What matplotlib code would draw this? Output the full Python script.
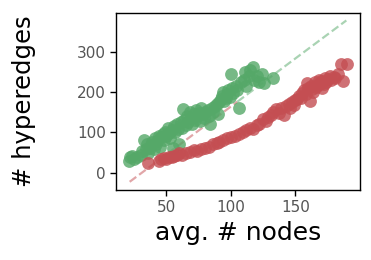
import matplotlib
matplotlib.use("Agg")
import matplotlib.pyplot as plt

# green series: avg. # nodes vs # hyperedges
green_x = [21, 22, 23, 25, 27, 30, 31, 33, 34, 35, 36, 37, 38, 39, 40, 41, 42, 43,
           44, 45, 46, 47, 48, 49, 50, 51, 52, 53, 54, 55, 56, 57, 58, 59, 60, 61,
           62, 63, 64, 65, 66, 67, 68, 69, 70, 71, 72, 73, 74, 75, 76, 77, 78, 79,
           80, 82, 83, 84, 85, 86, 88, 89, 90, 91, 92, 93, 94, 95, 96, 97, 98, 99,
           100, 101, 102, 104, 105, 106, 108, 110, 111, 112, 114, 115, 117, 118,
           120, 122, 124, 126, 133]
green_y = [30, 38, 42, 35, 40, 45, 55, 80, 60, 72, 50, 62, 68, 75, 58, 85, 70, 78,
           92, 65, 88, 95, 80, 100, 90, 110, 98, 85, 105, 62, 115, 100, 120, 108, 72,
           125, 112, 158, 130, 118, 140, 125, 150, 135, 120, 145, 130, 155, 140, 148,
           128, 160, 145, 135, 150, 155, 140, 120, 160, 150, 165, 170, 145, 175, 182,
           190, 200, 178, 185, 195, 205, 188, 245, 210, 198, 215, 205, 160, 225, 230,
           250, 215, 240, 255, 262, 230, 240, 225, 245, 222, 236]

# red series
red_x = [36, 44, 46, 48, 50, 52, 54, 56, 58, 60, 62, 65, 68, 71, 74, 77, 80, 83,
         86, 89, 91, 94, 97, 100, 103, 106, 109, 112, 115, 117, 120, 122, 125, 127,
         129, 131, 133, 135, 137, 139, 141, 143, 145, 147, 149, 151, 153, 155, 157,
         159, 160, 161, 162, 164, 165, 167, 168, 170, 172, 173, 175, 177, 180, 183,
         185, 187, 190, 146, 150, 154, 158, 163, 166, 169, 171, 174, 178, 181]
red_y = [25, 30, 33, 36, 35, 40, 38, 42, 45, 48, 44, 50, 52, 57, 55, 60, 62, 65,
         70, 74, 77, 80, 85, 88, 92, 96, 100, 105, 111, 108, 118, 122, 132, 128,
         138, 142, 150, 157, 148, 160, 144, 165, 170, 175, 168, 182, 190, 198, 205,
         223, 210, 177, 215, 200, 225, 218, 230, 228, 219, 235, 232, 240, 238, 245,
         269, 227, 269, 160, 180, 185, 195, 208, 212, 220, 210, 225, 230, 236]

# dashed reference line (split into a red and a green part)
red_line_x = [21.5, 105]
red_line_y = [-22.5, 176]
green_line_x = [105, 189.5]
green_line_y = [176, 377.5]

GREEN = "#55a868"
RED = "#c44e52"

fig = plt.figure(figsize=(3.71, 2.6), dpi=100)
ax = fig.add_axes([0.313, 0.269, 0.657, 0.681])

ax.plot(red_line_x, red_line_y, "--", color=RED, alpha=0.5, lw=1.6, zorder=1)
ax.plot(green_line_x, green_line_y, "--", color=GREEN, alpha=0.5, lw=1.6, zorder=1)
ax.scatter(green_x, green_y, s=85, color=GREEN, alpha=0.8, linewidths=0, zorder=2)
ax.scatter(red_x, red_y, s=85, color=RED, alpha=0.8, linewidths=0, zorder=3)

ax.set_xlim(11, 200)
ax.set_ylim(-43, 396)
ax.set_xticks([50, 100, 150])
ax.set_yticks([0, 100, 200, 300])

for sp in ax.spines.values():
    sp.set_color("black")
    sp.set_linewidth(1.0)
ax.tick_params(axis="both", direction="out", length=4, width=1, colors="black",
               labelcolor="#555555", labelsize=11)

ax.set_xlabel("avg. # nodes", fontsize=18, labelpad=4)
ax.set_ylabel("# hyperedges", fontsize=17.5)
ax.yaxis.set_label_coords(-0.33, 0.5)

fig.savefig("out.png", dpi=100)
